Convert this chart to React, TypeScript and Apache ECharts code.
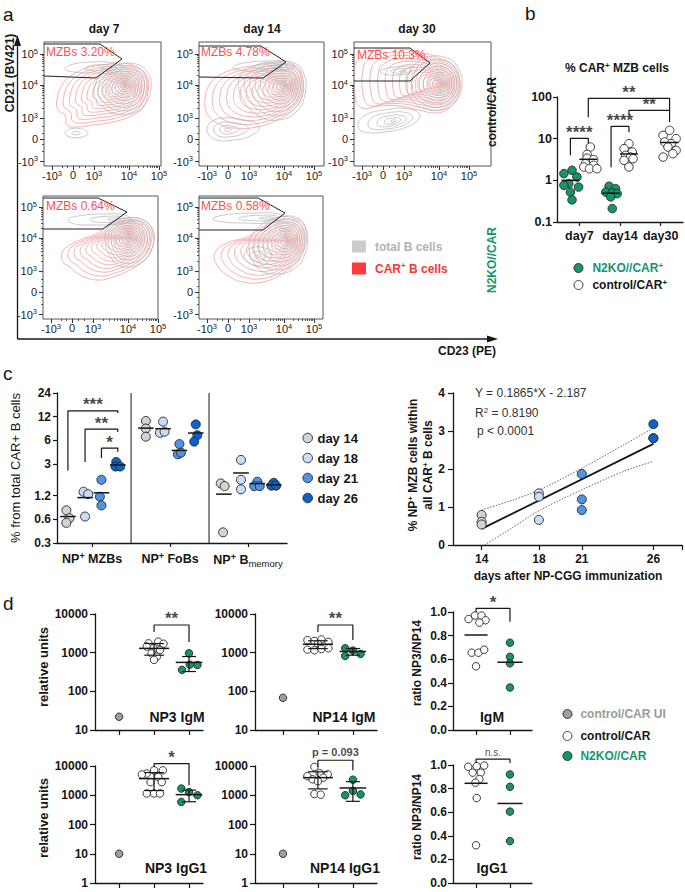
import React, { useEffect, useRef } from 'react';
import * as echarts from 'echarts';

const FONT = '"Liberation Sans", Arial, Helvetica, sans-serif';
const INK = '#161616';
const GREEN = '#16956b';
const UI_GRAY = '#9e9e9e';
const DAY_COLORS = ['#d3d3d3', '#c9def6', '#4f95e6', '#0c62c9'];
const RED_LINE = '#f29090';
const GRAY_LINE = '#b3b3b3';

// ---------- a: flow contour plots (units = px inside each plot: x from left, y from bottom) ----------
const flowTitles = ['day 7', 'day 14', 'day 30'];
const flowTickLabels = ['-10{s|3}', '0', '10{s|3}', '10{s|4}', '10{s|5}'];
const flowXTicks = [8, 29, 50, 85, 115];
const flowYTicks = [4.5, 27, 48, 81, 112];
const mzbLabels = ['MZBs 3.20%', 'MZBs 4.78%', 'MZBs 10.3%', 'MZBs 0.64%', 'MZBs 0.58%'];

const ctrlD7Red = [
  { c: [81, 80], n: 15, pts: [[13, 66], [18, 81], [28, 91], [43, 98], [59, 101], [76, 103], [93, 99], [103, 89], [104, 74], [99, 59], [89, 51], [69, 44], [49, 41], [33, 39], [23, 41], [21, 51], [14, 56]] },
];
const ctrlD7Gray = [
  { c: [81, 81], n: 11, pts: [[50, 73], [58, 92], [75, 101], [92, 102], [104, 93], [107, 78], [102, 63], [92, 54], [72, 52], [58, 60]] },
  { c: [66, 98], n: 3, pts: [[21, 97], [30, 102], [50, 104], [70, 103], [78, 98], [70, 93], [50, 93], [30, 94]] },
  { c: [32, 33], n: 2, pts: [[21, 33], [26, 37], [38, 37], [44, 33], [38, 29], [26, 29]] },
];
const ctrlD7Gate = [[0, 122], [56, 122], [78, 107], [52, 88], [0, 90]];

const ctrlD14Red = [
  { c: [85, 80], n: 15, pts: [[6, 66], [9, 79], [21, 91], [41, 98], [64, 101], [84, 103], [99, 98], [104, 86], [103, 69], [94, 56], [78, 46], [58, 39], [34, 38], [18, 43], [9, 51], [6, 59]] },
];
const ctrlD14Gray = [
  { c: [85, 80], n: 11, pts: [[40, 88], [55, 100], [75, 104], [95, 103], [105, 92], [106, 72], [98, 55], [80, 46], [60, 50], [45, 65]] },
  { c: [28, 36], n: 4, pts: [[8, 36], [12, 44], [25, 48], [45, 46], [60, 40], [55, 32], [35, 26], [15, 27]] },
  { c: [80, 100], n: 3, pts: [[34, 99], [45, 103], [70, 105], [90, 104], [95, 99], [80, 96], [55, 95], [40, 96]] },
];
const ctrlD14Gate = [[0, 120], [62, 120], [87, 104], [64, 88], [0, 89]];

const ctrlD30Red = [
  { c: [87, 82], n: 15, pts: [[1, 100], [8, 110], [22, 116], [45, 117], [65, 114], [85, 108], [100, 100], [106, 85], [104, 70], [95, 58], [82, 53], [65, 56], [45, 60], [25, 60], [8, 58], [1, 70]] },
];
const ctrlD30Gray = [
  { c: [87, 82], n: 11, pts: [[53, 80], [58, 98], [72, 108], [90, 109], [103, 100], [108, 82], [102, 65], [88, 56], [70, 58], [58, 66]] },
  { c: [40, 45], n: 5, pts: [[4, 40], [10, 50], [30, 56], [55, 57], [66, 50], [55, 40], [30, 34], [10, 34]] },
  { c: [50, 95], n: 3, pts: [[26, 95], [40, 99], [60, 99], [63, 95], [45, 91], [30, 92]] },
];
const ctrlD30Gate = [[0, 118], [56, 118], [76, 103], [56, 85], [0, 85]];

const koD7Red = [
  { c: [86, 81], n: 15, pts: [[19, 66], [24, 72], [37, 79], [57, 87], [67, 96], [84, 101], [100, 99], [110, 89], [110, 74], [104, 62], [90, 51], [70, 42], [54, 39], [37, 44], [27, 52], [20, 57]] },
];
const koD7Gray = [
  { c: [86, 81], n: 11, pts: [[62, 80], [68, 95], [85, 101], [102, 98], [110, 85], [108, 68], [98, 56], [82, 52], [70, 58]] },
  { c: [75, 100], n: 3, pts: [[25, 99], [35, 103], [60, 105], [82, 104], [88, 99], [75, 95], [50, 94], [32, 95]] },
];
const koD7Gate = [[0, 121], [55, 121], [84, 107], [60, 90], [0, 90]];

const koD14Red = [
  { c: [88, 78], n: 15, pts: [[16, 66], [28, 76], [48, 82], [64, 92], [78, 101], [94, 101], [106, 92], [107, 76], [99, 59], [84, 46], [64, 37], [44, 37], [28, 44], [18, 54]] },
];
const koD14Gray = [
  { c: [88, 78], n: 11, pts: [[50, 75], [60, 92], [80, 102], [100, 100], [108, 85], [106, 65], [95, 50], [75, 45], [58, 52]] },
  { c: [58, 62], n: 3, pts: [[45, 62], [50, 70], [62, 72], [72, 66], [68, 56], [55, 54]] },
  { c: [72, 101], n: 3, pts: [[14, 100], [25, 104], [55, 106], [80, 105], [85, 100], [70, 96], [45, 96], [25, 97]] },
];
const koD14Gate = [[0, 121], [59, 121], [86, 106], [64, 89], [0, 89]];

// ---------- b: % CAR+ MZB cells ----------
const bDays = ['day7', 'day14', 'day30'];
const bKoDay7 = [1.74, 1.45, 1.2, 0.83, 0.76, 0.69, 0.52, 0.34];
const bKoDay7Jit = [0.04, -0.16, 0.16, -0.04, -0.16, 0.2, 0, 0.04];
const bKoDay14 = [0.72, 0.63, 0.52, 0.5, 0.48, 0.4, 0.21];
const bKoDay14Jit = [-0.05, 0.11, -0.13, 0.03, 0.15, -0.01, 0.03];
const bCtDay7 = [6.3, 4.2, 3.4, 3.14, 2.5, 2.29, 2.09, 1.9, 1.9];
const bCtDay7Jit = [0.05, -0.03, -0.03, 0.13, -0.07, 0.13, -0.11, 0.03, 0.21];
const bCtDay14 = [7.6, 5.75, 4.78, 3.98, 3.62, 3.3, 3.02, 2.09];
const bCtDay14Jit = [0, -0.12, 0.08, -0.08, 0.04, 0.1, -0.12, 0];
const bCtDay30 = [15.8, 12, 10, 8.3, 7.6, 6.3, 5.25, 4.37, 3.62];
const bCtDay30Jit = [0, -0.16, 0.16, -0.12, 0.04, -0.04, 0.16, 0.08, -0.16];
const bKoMeans = [1.0, 0.49];
const bCtMeans = [3.2, 4.3, 8.1];
const bBrackets = [
  { x1: -0.22, y1: 3.98, x2: 0.22, y2: 7.7, top: 10.2, text: '****' },
  { x1: 0.78, y1: 2.05, x2: 1.22, y2: 14.2, top: 19.8, text: '****' },
  { x1: 0.22, y1: 32.5, x2: 2.22, y2: 47.9, top: 92.7, text: '**' },
  { x1: 1.22, y1: 36, x2: 2.22, y2: 25, top: 47.9, text: '**' },
];

// ---------- c: NP+ populations ----------
const cGroups = ['day 14', 'day 18', 'day 21', 'day 26'];
const cCats = ['NP{s|+} MZBs', 'NP{s|+} FoBs', 'NP{s|+} B{m|memory}'];
const cYTicks = [0.3, 0.6, 1.2, 3, 6, 12, 24];
// per day: [MZBs, FoBs, Bmemory]
const cDay14 = [[0.78, 0.62, 0.54], [10.6, 8.5, 6.7], [1.71, 1.58, 0.41]];
const cDay18 = [[1.34, 1.25, 0.65], [10.4, 7.5, 7.75], [3.4, 1.9, 1.44]];
const cDay21 = [[1.9, 1.16, 0.9], [5.4, 4.0, 4.2], [1.8, 1.58, 1.58]];
const cDay26 = [[3.2, 2.8, 2.8], [9.6, 7.0, 5.8], [1.74, 1.6, 1.6]];
const cDay14Jit = [[-0.02, 0.02, -0.02], [0, 0, 0], [-0.04, 0.01, -0.01]];
const cDay18Jit = [[-0.02, 0.04, 0], [0, -0.04, 0.02], [0, 0, 0]];
const cDay21Jit = [[0, -0.02, 0], [0, -0.02, 0.02], [0, -0.04, 0.03]];
const cDay26Jit = [[-0.02, -0.03, 0.03], [0, 0.02, -0.02], [0, -0.03, 0.03]];
const cMeans = [[0.65, 8.6, 1.25], [1.13, 8.45, 2.32], [1.3, 4.48, 1.7], [2.93, 7.45, 1.64]];
const cBrackets = [
  { x1: -0.31, y1: 2.5, x2: 0.33, y2: 13.4, top: 14.2, text: '***' },
  { x1: -0.09, y1: 3.2, x2: 0.33, y2: 7.7, top: 8.35, text: '**' },
  { x1: 0.12, y1: 3.6, x2: 0.33, y2: 4.3, top: 4.8, text: '*' },
];
// regression
const sDays = [14, 18, 21, 26];
const sVals = [[0.79, 0.61, 0.54], [1.36, 1.27, 0.66], [1.87, 1.2, 0.92], [3.18, 2.81, 2.81]];
const fitSlope = 0.1865;
const fitIntercept = -2.187;
const ciUpper = [[14, 0.92], [16, 1.16], [18, 1.44], [21, 2.02], [24, 2.65], [26, 3.08]];
const ciLower = [[14.2, 0], [16, 0.42], [18, 0.9], [21, 1.45], [24, 1.95], [26, 2.2]];

// ---------- d: antibody titres ----------
const dGroups = ['control/CAR UI', 'control/CAR', 'N2KO//CAR'];
const np3IgmUI = [22];
const np3IgmCtrl = [1740, 1930, 1700, 1440, 1300, 1170, 960, 790, 650];
const np3IgmCtrlJit = [-0.16, 0.12, 0.27, -0.21, -0.02, 0.17, -0.07, 0.08, 0];
const np3IgmKo = [960, 360, 490, 480];
const np3IgmKoJit = [0, -0.2, 0.02, 0.24];
const np3IgmStats = [[1290, 430], [560, 235]];
const np14IgmUI = [68];
const np14IgmCtrl = [2100, 2000, 2200, 1900, 1700, 1200, 1150, 1250, 1300];
const np14IgmCtrlJit = [-0.3, -0.1, 0.1, 0.3, 0, -0.3, -0.1, 0.1, 0.3];
const np14IgmKo = [1300, 1130, 820, 930];
const np14IgmKoJit = [-0.22, 0, -0.22, 0.22];
const np14IgmStats = [[1650, 380], [1070, 210]];
const np3Igg1UI = [10];
const np3Igg1Ctrl = [5500, 7100, 7100, 5100, 4200, 2800, 2800, 1150, 1150, 1150];
const np3Igg1CtrlJit = [-0.21, 0, 0.25, -0.35, 0.12, -0.1, 0.22, -0.21, 0, 0.17];
const np3Igg1Ko = [1700, 1290, 1000, 590];
const np3Igg1KoJit = [-0.22, 0, 0.24, -0.22];
const np3Igg1Stats = [[3700, 2250], [1050, 450]];
const np14Igg1UI = [10];
const np14Igg1Ctrl = [9300, 5700, 5200, 4500, 4000, 3500, 3000, 1100, 1050];
const np14Igg1CtrlJit = [-0.1, 0.05, 0.28, -0.3, 0.15, -0.15, 0, -0.1, 0.08];
const np14Igg1Ko = [3400, 1000, 1400, 1070];
const np14Igg1KoJit = [0, -0.22, 0, 0.22];
const np14Igg1Stats = [[4000, 2350], [1770, 1150]];
const dBrackets = [
  { x1: 1, y1: 3430, x2: 2, y2: 1890, top: 5200, text: '**' },
  { x1: 1, y1: 3430, x2: 2, y2: 2130, top: 5200, text: '**' },
  { x1: 1, y1: 9300, x2: 2, y2: 2190, top: 12000, text: '*' },
  { x1: 1, y1: 9300, x2: 2, y2: 7100, top: 15700, text: 'p = 0.093' },
];
const igmRatioCtrl = [0.94, 0.97, 0.97, 0.93, 0.91, 0.655, 0.655, 0.68, 0.54];
const igmRatioCtrlJit = [-0.22, -0.03, 0.16, 0.28, 0.1, -0.13, 0.07, 0.24, 0];
const igmRatioKo = [0.74, 0.62, 0.565, 0.36];
const igmRatioMeans = [0.805, 0.574];
const igg1RatioCtrl = [0.985, 0.99, 0.995, 0.935, 0.935, 0.88, 0.85, 0.72, 0.32];
const igg1RatioCtrlJit = [-0.23, 0.02, 0.24, -0.1, 0.14, 0.1, -0.02, 0.02, 0];
const igg1RatioKo = [0.92, 0.815, 0.605, 0.355];
const igg1RatioMeans = [0.845, 0.674];
const ratioBrackets = [
  { x1: 0, y1: 1.0, x2: 1, y2: 0.918, top: 1.03, text: '*' },
  { x1: 0, y1: 1.017, x2: 1, y2: 1.017, top: 1.05, text: 'n.s.' },
];

function nearest(arr: number[], v: number) {
  let bi = 0;
  arr.forEach((p, i) => { if (Math.abs(p - v) < Math.abs(arr[bi] - v)) bi = i; });
  return bi;
}
function logMinors(a: number, b: number) {
  return [2, 3, 4, 5, 6, 7, 8, 9].map((k) => a + (b - a) * Math.log10(k));
}

function buildOption(): any {
  const grid: any[] = [];
  const xAxis: any[] = [];
  const yAxis: any[] = [];
  const series: any[] = [];
  const graphic: any[] = [];
  const legend: any[] = [];

  const axLine = { show: true, onZero: false, lineStyle: { color: INK, width: 1.3 } };
  const tick = (length = 4) => ({ show: true, length, lineStyle: { color: INK, width: 1.2 } });
  const lab = (size = 12, weight: any = 'bold', color = INK) => ({ fontFamily: FONT, fontSize: size, fontWeight: weight, color });
  const addGrid = (left: number, top: number, width: number, height: number, show = false) => {
    grid.push({ left, top, width, height, show, borderColor: '#555', borderWidth: 1, backgroundColor: 'transparent', containLabel: false });
    return grid.length - 1;
  };
  const addX = (o: any) => { xAxis.push(o); return xAxis.length - 1; };
  const addY = (o: any) => { yAxis.push(o); return yAxis.length - 1; };

  const dots = (xi: number, yi: number, name: string, xs: number[], ys: number[], fill: string, size: number, z = 3) => {
    series.push({
      type: 'scatter', name, xAxisIndex: xi, yAxisIndex: yi, data: xs.map((x, i) => [x, ys[i]]),
      symbol: 'circle', symbolSize: size, itemStyle: { color: fill, borderColor: '#262626', borderWidth: 0.9, opacity: 1 },
      z, silent: true, clip: false,
    });
  };
  const means = (xi: number, yi: number, items: number[][], hw: number, capHw = 0, z = 5) => {
    series.push({
      type: 'custom', xAxisIndex: xi, yAxisIndex: yi, data: items, encode: { x: 0, y: 1 }, z, silent: true, clip: false,
      renderItem: (params: any, api: any) => {
        const x = api.value(0);
        const m = api.value(1);
        const sd = api.value(2) || 0;
        const L = api.coord([x - hw, m]);
        const R = api.coord([x + hw, m]);
        const st = { stroke: INK, lineWidth: 1.5 };
        const ch: any[] = [{ type: 'line', shape: { x1: L[0], y1: L[1], x2: R[0], y2: R[1] }, style: st }];
        if (sd > 0) {
          const T = api.coord([x, m + sd]);
          const B = api.coord([x, m - sd]);
          const TL = api.coord([x - capHw, m + sd]);
          const TR = api.coord([x + capHw, m + sd]);
          const BL = api.coord([x - capHw, m - sd]);
          const BR = api.coord([x + capHw, m - sd]);
          ch.push({ type: 'line', shape: { x1: T[0], y1: T[1], x2: B[0], y2: B[1] }, style: { stroke: INK, lineWidth: 1.2 } });
          ch.push({ type: 'line', shape: { x1: TL[0], y1: TL[1], x2: TR[0], y2: TR[1] }, style: { stroke: INK, lineWidth: 1.2 } });
          ch.push({ type: 'line', shape: { x1: BL[0], y1: BL[1], x2: BR[0], y2: BR[1] }, style: { stroke: INK, lineWidth: 1.2 } });
        }
        return { type: 'group', children: ch };
      },
    });
  };
  const bracket = (xi: number, yi: number, br: any, size: number, weight: any = 'bold', dist = 0) => {
    series.push({
      type: 'line', xAxisIndex: xi, yAxisIndex: yi, data: [[br.x1, br.y1], [br.x1, br.top], [br.x2, br.top], [br.x2, br.y2]],
      symbol: 'none', lineStyle: { color: INK, width: 1.2 }, clip: false, silent: true, z: 6,
    });
    series.push({
      type: 'scatter', xAxisIndex: xi, yAxisIndex: yi, data: [[(br.x1 + br.x2) / 2, br.top]], symbolSize: 1,
      itemStyle: { color: 'rgba(0,0,0,0)' }, clip: false, silent: true, z: 7,
      label: { show: true, position: 'top', distance: dist, formatter: br.text, ...lab(size, weight) },
    });
  };
  const text = (t: string, x: number, y: number, o: any = {}) => {
    const align = o.align || 'center';
    graphic.push({
      type: 'text', x, y, rotation: o.rot || 0, silent: true, z: 20,
      style: {
        text: t, fill: o.color || INK, fontFamily: FONT, fontSize: o.size || 12, fontWeight: o.weight || 'bold',
        align, verticalAlign: 'middle', textAlign: align, textVerticalAlign: 'middle', rich: o.rich,
      },
    });
  };
  const supRich = (size: number, weight: string, color: string) => ({
    s: { fontFamily: FONT, fontSize: Math.round(size * 0.7), fontWeight: weight, fill: color, padding: [0, 0, Math.round(size * 0.5), 0] },
  });
  const addLegend = (name: string, left: number, cy: number, o: any) => {
    legend.push({
      show: true, left, top: cy - o.h / 2, padding: 0, itemGap: 0, itemWidth: o.iw, itemHeight: o.ih, selectedMode: false,
      data: [{ name, icon: o.icon, itemStyle: o.itemStyle }],
      formatter: o.fmt || ((n: string) => n),
      textStyle: { fontFamily: FONT, fontSize: o.size, fontWeight: 'bold', color: o.color, padding: [0, 0, 0, o.pad || 0], rich: { s: { fontSize: Math.round(o.size * 0.7), padding: [0, 0, 6, 0] } } },
    });
  };

  // ================= panel a =================
  const flowBoxes = [
    { left: 44, top: 42, w: 117, h: 124, red: ctrlD7Red, gray: ctrlD7Gray, gate: ctrlD7Gate, lx: 46, ly: 52 },
    { left: 199, top: 42, w: 125, h: 124, red: ctrlD14Red, gray: ctrlD14Gray, gate: ctrlD14Gate, lx: 201, ly: 52 },
    { left: 354, top: 42, w: 137, h: 124, red: ctrlD30Red, gray: ctrlD30Gray, gate: ctrlD30Gate, lx: 357, ly: 55 },
    { left: 43, top: 196, w: 115, h: 123, red: koD7Red, gray: koD7Gray, gate: koD7Gate, lx: 46, ly: 206 },
    { left: 199, top: 196, w: 124, h: 123, red: koD14Red, gray: koD14Gray, gate: koD14Gate, lx: 201, ly: 206 },
  ];
  const flowXMinor = [...logMinors(50, 85), ...logMinors(85, 115), 18, 23, 35, 41];
  const flowYMinor = [...logMinors(48, 81), ...logMinors(81, 112), 15, 22, 33, 40];
  const flowRich = { s: { fontSize: 7.5, padding: [0, 0, 6, 0] } };
  const contour = (xi: number, yi: number, blobs: any[], color: string, name: string, z: number) => ({
    type: 'custom', name, xAxisIndex: xi, yAxisIndex: yi, silent: true, z, clip: true, itemStyle: { color },
    data: blobs.map((b) => b.c), encode: { x: 0, y: 1 },
    renderItem: (params: any, api: any) => {
      const b = blobs[params.dataIndex];
      const c = api.coord(b.c);
      const pts = b.pts.map((p: number[]) => api.coord(p));
      const children: any[] = [];
      for (let k = 0; k < b.n; k++) {
        // contour levels pack more tightly towards the density peak
        const s = Math.pow(1 - k / b.n, 1.45);
        children.push({
          type: 'polygon',
          shape: { points: pts.map((p: number[]) => [c[0] + (p[0] - c[0]) * s, c[1] + (p[1] - c[1]) * s]), smooth: 0.45 },
          style: { fill: 'none', stroke: color, lineWidth: 0.7 },
        });
      }
      return { type: 'group', children };
    },
  });
  flowBoxes.forEach((fb, i) => {
    const g = addGrid(fb.left, fb.top, fb.w, fb.h, true);
    const base = { type: 'value', gridIndex: g, splitLine: { show: false }, axisLine: { show: false, onZero: false } };
    const xi = addX({
      ...base, min: 0, max: fb.w, position: 'bottom',
      axisTick: { show: true, customValues: flowXTicks, length: 4, lineStyle: { color: '#333', width: 1 } },
      axisLabel: { show: true, customValues: flowXTicks, formatter: (v: number) => flowTickLabels[nearest(flowXTicks, v)], ...lab(11, 'normal', '#222'), margin: 3, rich: flowRich },
    });
    addX({
      ...base, min: 0, max: fb.w, position: 'bottom', axisLabel: { show: false },
      axisTick: { show: true, customValues: flowXMinor, length: 2, lineStyle: { color: '#333', width: 0.8 } },
    });
    const yi = addY({
      ...base, min: 0, max: fb.h, position: 'left',
      axisTick: { show: true, customValues: flowYTicks, length: 4, lineStyle: { color: '#333', width: 1 } },
      axisLabel: { show: true, customValues: flowYTicks, formatter: (v: number) => flowTickLabels[nearest(flowYTicks, v)], ...lab(11, 'normal', '#222'), margin: 6, rich: flowRich },
    });
    addY({
      ...base, min: 0, max: fb.h, position: 'left', axisLabel: { show: false },
      axisTick: { show: true, customValues: flowYMinor, length: 2, lineStyle: { color: '#333', width: 0.8 } },
    });
    series.push(contour(xi, yi, fb.red, RED_LINE, 'CAR+ B cells', 2));
    series.push(contour(xi, yi, fb.gray, GRAY_LINE, 'total B cells', 3));
    series.push({
      type: 'line', xAxisIndex: xi, yAxisIndex: yi, data: fb.gate, symbol: 'none',
      lineStyle: { color: '#222', width: 1 }, silent: true, z: 6, clip: false,
    });
    text(mzbLabels[i], fb.lx, fb.ly, { align: 'left', weight: 'normal', size: 12, color: '#ff4f4f' });
  });
  text(flowTitles[0], 104, 29);
  text(flowTitles[1], 262, 29);
  text(flowTitles[2], 417, 29);
  text('a', 3, 14, { align: 'left', weight: 'normal', size: 19 });
  text('CD21 (BV421)', 10, 73, { rot: Math.PI / 2, size: 12 });
  text('CD23 (PE)', 467, 351, { size: 12 });
  text('control/CAR', 492, 112, { rot: Math.PI / 2, size: 12 });
  text('N2KO//CAR', 492, 260, { rot: Math.PI / 2, size: 12, color: GREEN });
  graphic.push({ type: 'line', shape: { x1: 17.5, y1: 339, x2: 17.5, y2: 44 }, style: { stroke: INK, lineWidth: 1.3 }, silent: true });
  graphic.push({ type: 'polygon', shape: { points: [[17.5, 35], [14, 46], [21, 46]] }, style: { fill: INK }, silent: true });
  graphic.push({ type: 'line', shape: { x1: 17.5, y1: 339, x2: 488, y2: 339 }, style: { stroke: INK, lineWidth: 1.3 }, silent: true });
  graphic.push({ type: 'polygon', shape: { points: [[498, 339], [487, 335.5], [487, 342.5]] }, style: { fill: INK }, silent: true });
  addLegend('total B cells', 352, 247, { h: 13, iw: 14, ih: 12, icon: 'rect', itemStyle: { color: '#cccccc' }, size: 12, color: '#b3b3b3', pad: 4 });
  addLegend('CAR+ B cells', 352, 268, { h: 13, iw: 14, ih: 12, icon: 'rect', itemStyle: { color: '#ff3b3b' }, size: 12, color: '#ff3333', pad: 4, fmt: () => 'CAR{s|+} B cells' });

  // ================= panel b =================
  {
    const g = addGrid(557, 97, 126, 125);
    const xi = addX({
      type: 'value', gridIndex: g, min: -0.55, max: 2.55, splitLine: { show: false }, axisLine: axLine,
      axisTick: { ...tick(4), customValues: [0, 1, 2] },
      axisLabel: { customValues: [0, 1, 2], formatter: (v: number) => bDays[Math.round(v)], ...lab(12.5), margin: 7 },
    });
    const yi = addY({
      type: 'log', logBase: 10, gridIndex: g, min: 0.1, max: 100, splitLine: { show: false }, axisLine: axLine,
      axisTick: tick(4), minorTick: { show: false },
      axisLabel: { formatter: (v: number) => (v >= 1 ? String(Math.round(v)) : String(Number(v.toPrecision(1)))), ...lab(12.5), margin: 5 },
    });
    const jx = (c: number, off: number, jit: number[]) => jit.map((j) => c + off + j);
    dots(xi, yi, 'N2KO//CAR+', [...jx(0, -0.22, bKoDay7Jit), ...jx(1, -0.22, bKoDay14Jit)], [...bKoDay7, ...bKoDay14], GREEN, 8.5);
    dots(xi, yi, 'control/CAR+', [...jx(0, 0.22, bCtDay7Jit), ...jx(1, 0.22, bCtDay14Jit), ...jx(2, 0.22, bCtDay30Jit)], [...bCtDay7, ...bCtDay14, ...bCtDay30], '#ffffff', 8.5);
    means(xi, yi, [...bKoMeans.map((m, i) => [i - 0.22, m, 0]), ...bCtMeans.map((m, i) => [i + 0.22, m, 0])], 0.22);
    bBrackets.forEach((br) => bracket(xi, yi, br, 17, 'bold', -3));
    text('b', 525, 13, { align: 'left', weight: 'normal', size: 19 });
    text('% CAR{s|+} MZB cells', 617, 68, { size: 12, rich: supRich(12, 'bold', INK) });
    addLegend('N2KO//CAR+', 573.5, 267, { h: 12, iw: 9, ih: 9, icon: 'circle', itemStyle: { color: GREEN, borderColor: '#262626', borderWidth: 0.9 }, size: 12, color: GREEN, pad: 4.5, fmt: () => 'N2KO//CAR{s|+}' });
    addLegend('control/CAR+', 573.5, 284, { h: 12, iw: 9, ih: 9, icon: 'circle', itemStyle: { color: '#ffffff', borderColor: '#262626', borderWidth: 0.9 }, size: 12, color: INK, pad: 4.5, fmt: () => 'control/CAR{s|+}' });
  }

  // ================= panel c (left) =================
  {
    const g = addGrid(57, 393, 230, 150);
    const xi = addX({
      type: 'value', gridIndex: g, min: -0.45, max: 2.5, splitLine: { show: false }, axisLine: axLine,
      axisTick: { ...tick(4), customValues: [0, 1, 2] },
      axisLabel: {
        customValues: [0, 1, 2], formatter: (v: number) => cCats[Math.round(v)], ...lab(12.5), margin: 8,
        rich: { s: { fontSize: 9, padding: [0, 0, 6, 0] }, m: { fontSize: 9.5, fontWeight: 'normal', padding: [7, 0, 0, 0] } },
      },
    });
    const yi = addY({
      type: 'log', logBase: 2, gridIndex: g, min: 0.3, max: 24, splitLine: { show: false }, axisLine: axLine,
      axisTick: { ...tick(4), customValues: cYTicks }, minorTick: { show: false },
      axisLabel: { customValues: cYTicks, formatter: (v: number) => String(Number(v.toPrecision(2))), ...lab(12), margin: 6 },
    });
    const offs = [-0.31, -0.09, 0.12, 0.33];
    const days = [cDay14, cDay18, cDay21, cDay26];
    const jits = [cDay14Jit, cDay18Jit, cDay21Jit, cDay26Jit];
    days.forEach((dv, d) => {
      const xs: number[] = [];
      const ys: number[] = [];
      dv.forEach((vals, cat) => vals.forEach((v, k) => { xs.push(cat + offs[d] + jits[d][cat][k]); ys.push(v); }));
      dots(xi, yi, cGroups[d], xs, ys, DAY_COLORS[d], 9);
      means(xi, yi, cMeans[d].map((m, cat) => [cat + offs[d], m, 0]), 0.1);
    });
    [0.5, 1.5].forEach((sx) => series.push({
      type: 'line', xAxisIndex: xi, yAxisIndex: yi, data: [[sx, 0.3], [sx, 24]], symbol: 'none',
      lineStyle: { color: INK, width: 1 }, silent: true, z: 2,
    }));
    cBrackets.forEach((br) => bracket(xi, yi, br, 17, 'bold', -3));
    text('c', 3, 373, { align: 'left', weight: 'normal', size: 19 });
    text('% from total CAR+ B cells', 15, 468, { rot: Math.PI / 2, size: 13, weight: 'normal' });
    cGroups.forEach((name, d) => addLegend(name, 302.5, 438 + d * 20, {
      h: 13, iw: 9.5, ih: 9.5, icon: 'circle', itemStyle: { color: DAY_COLORS[d], borderColor: '#262626', borderWidth: 0.9 }, size: 13, color: INK, pad: 0,
    }));
  }

  // ================= panel c (right) =================
  {
    const g = addGrid(453, 393, 229, 152);
    const xi = addX({
      type: 'value', gridIndex: g, min: 12, max: 28, splitLine: { show: false }, axisLine: axLine,
      axisTick: { ...tick(5), customValues: [14, 18, 21, 26, 28] },
      axisLabel: { customValues: sDays, ...lab(12), margin: 8 },
    });
    const yi = addY({
      type: 'value', gridIndex: g, min: 0, max: 4, interval: 1, splitLine: { show: false }, axisLine: axLine,
      axisTick: tick(5), axisLabel: { ...lab(12), margin: 8 },
    });
    series.push({ type: 'line', xAxisIndex: xi, yAxisIndex: yi, data: ciUpper, symbol: 'none', smooth: 0.3, lineStyle: { color: '#555', width: 0.9, type: [1.5, 1.5] }, silent: true, z: 2 });
    series.push({ type: 'line', xAxisIndex: xi, yAxisIndex: yi, data: ciLower, symbol: 'none', smooth: 0.3, lineStyle: { color: '#555', width: 0.9, type: [1.5, 1.5] }, silent: true, z: 2 });
    series.push({
      type: 'line', xAxisIndex: xi, yAxisIndex: yi, symbol: 'none', silent: true, z: 2,
      data: [[14, fitSlope * 14 + fitIntercept], [26, fitSlope * 26 + fitIntercept]], lineStyle: { color: INK, width: 1.8 },
    });
    sDays.forEach((day, d) => dots(xi, yi, cGroups[d], sVals[d].map(() => day), sVals[d], DAY_COLORS[d], 9, 4));
    text('Y = 0.1865*X - 2.187', 475, 393, { align: 'left', weight: 'normal', size: 12, color: '#333' });
    text('R{s|2} = 0.8190', 475, 413, { align: 'left', weight: 'normal', size: 12, color: '#333', rich: supRich(12, 'normal', '#333') });
    text('p < 0.0001', 477, 431, { align: 'left', weight: 'normal', size: 12, color: '#333' });
    text('% NP{s|+} MZB cells within', 413, 465, { rot: Math.PI / 2, size: 12, rich: supRich(12, 'bold', INK) });
    text('all CAR{s|+} B cells', 428, 465, { rot: Math.PI / 2, size: 12, rich: supRich(12, 'bold', INK) });
    text('days after NP-CGG immunization', 568, 576, { size: 12 });
  }

  // ================= panel d =================
  const dPlots = [
    { left: 95, top: 614, w: 108, h: 116, ymin: 10, xmin: -0.69, xmax: 2.4, ui: np3IgmUI, ct: np3IgmCtrl, ctJ: np3IgmCtrlJit, ko: np3IgmKo, koJ: np3IgmKoJit, st: np3IgmStats, br: dBrackets[0], label: 'NP3 IgM', lx: 177, ly: 717 },
    { left: 255, top: 614, w: 122, h: 116, ymin: 10, xmin: -0.8, xmax: 2.69, ui: np14IgmUI, ct: np14IgmCtrl, ctJ: np14IgmCtrlJit, ko: np14IgmKo, koJ: np14IgmKoJit, st: np14IgmStats, br: dBrackets[1], label: 'NP14 IgM', lx: 344, ly: 717 },
    { left: 95, top: 766, w: 108, h: 117, ymin: 1, xmin: -0.69, xmax: 2.4, ui: np3Igg1UI, ct: np3Igg1Ctrl, ctJ: np3Igg1CtrlJit, ko: np3Igg1Ko, koJ: np3Igg1KoJit, st: np3Igg1Stats, br: dBrackets[2], label: 'NP3 IgG1', lx: 176, ly: 868 },
    { left: 255, top: 766, w: 122, h: 117, ymin: 1, xmin: -0.8, xmax: 2.69, ui: np14Igg1UI, ct: np14Igg1Ctrl, ctJ: np14Igg1CtrlJit, ko: np14Igg1Ko, koJ: np14Igg1KoJit, st: np14Igg1Stats, br: dBrackets[3], label: 'NP14 IgG1', lx: 345, ly: 868 },
  ];
  dPlots.forEach((p, i) => {
    const g = addGrid(p.left, p.top, p.w, p.h);
    const xi = addX({
      type: 'value', gridIndex: g, min: p.xmin, max: p.xmax, splitLine: { show: false }, axisLine: axLine,
      axisTick: { ...tick(5), customValues: [0, 1, 2] }, axisLabel: { show: false },
    });
    const yi = addY({
      type: 'log', logBase: 10, gridIndex: g, min: p.ymin, max: 10000, splitLine: { show: false }, axisLine: axLine,
      axisTick: tick(5), minorTick: { show: false },
      axisLabel: { formatter: (v: number) => String(Math.round(v)), ...lab(12), margin: 7 },
    });
    dots(xi, yi, dGroups[0], p.ui.map(() => 0), p.ui, UI_GRAY, 7.5);
    dots(xi, yi, dGroups[1], p.ctJ.map((j) => 1 + j), p.ct, '#ffffff', 7.5);
    dots(xi, yi, dGroups[2], p.koJ.map((j) => 2 + j), p.ko, GREEN, 7.5);
    means(xi, yi, [[1, p.st[0][0], p.st[0][1]]], 0.43, 0.28);
    means(xi, yi, [[2, p.st[1][0], p.st[1][1]]], 0.38, 0.2);
    const isP = p.br.text.startsWith('p');
    bracket(xi, yi, p.br, isP ? 11 : 17, 'bold', isP ? 2 : -3);
    text(p.label, p.lx, p.ly, { size: 14 });
    if (i % 2 === 0) text('relative units', 43, i === 0 ? 667 : 818, { rot: Math.PI / 2, size: 13 });
  });
  const rPlots = [
    { top: 612, ct: igmRatioCtrl, ctJ: igmRatioCtrlJit, ko: igmRatioKo, mn: igmRatioMeans, br: ratioBrackets[0], label: 'IgM', ly: 717, ny: 663 },
    { top: 765, ct: igg1RatioCtrl, ctJ: igg1RatioCtrlJit, ko: igg1RatioKo, mn: igg1RatioMeans, br: ratioBrackets[1], label: 'IgG1', ly: 868, ny: 817 },
  ];
  rPlots.forEach((p) => {
    const g = addGrid(453, p.top, 79, 118);
    const xi = addX({
      type: 'value', gridIndex: g, min: -0.68, max: 1.65, splitLine: { show: false }, axisLine: axLine,
      axisTick: { ...tick(5), customValues: [0, 1] }, axisLabel: { show: false },
    });
    const yi = addY({
      type: 'value', gridIndex: g, min: 0, max: 1, interval: 0.2, splitLine: { show: false }, axisLine: axLine,
      axisTick: tick(5), axisLabel: { formatter: (v: number) => v.toFixed(1), ...lab(12), margin: 6 },
    });
    dots(xi, yi, dGroups[1], p.ctJ, p.ct, '#ffffff', 7.5);
    dots(xi, yi, dGroups[2], p.ko.map(() => 1), p.ko, GREEN, 7.5);
    means(xi, yi, [[0, p.mn[0], 0]], 0.34);
    means(xi, yi, [[1, p.mn[1], 0]], 0.37);
    const ns = p.br.text === 'n.s.';
    bracket(xi, yi, p.br, ns ? 10 : 17, ns ? 'normal' : 'bold', ns ? 1 : -3);
    text(p.label, 492, p.ly, { size: 14 });
    text('ratio NP3/NP14', 417, p.ny, { rot: Math.PI / 2, size: 12 });
  });
  text('d', 3, 603, { align: 'left', weight: 'normal', size: 19 });
  addLegend(dGroups[0], 562.5, 714, { h: 12, iw: 9, ih: 9, icon: 'circle', itemStyle: { color: UI_GRAY, borderColor: '#262626', borderWidth: 0.9 }, size: 12, color: '#9a9a9a', pad: 3.5 });
  addLegend(dGroups[1], 562.5, 736, { h: 12, iw: 9, ih: 9, icon: 'circle', itemStyle: { color: '#ffffff', borderColor: '#262626', borderWidth: 0.9 }, size: 12, color: INK, pad: 3.5 });
  addLegend(dGroups[2], 562.5, 756, { h: 12, iw: 9, ih: 9, icon: 'circle', itemStyle: { color: GREEN, borderColor: '#262626', borderWidth: 0.9 }, size: 12, color: GREEN, pad: 3.5 });

  return {
    animation: false,
    backgroundColor: '#ffffff',
    textStyle: { fontFamily: FONT },
    grid, xAxis, yAxis, series, legend,
    graphic: { elements: graphic },
  };
}

export default function App() {
  const ref = useRef<HTMLDivElement>(null);
  useEffect(() => {
    if (!ref.current) return;
    const chart = echarts.init(ref.current, null, { renderer: 'svg' });
    chart.setOption(buildOption());
    return () => chart.dispose();
  }, []);
  return <div ref={ref} style={{ position: 'absolute', left: 0, top: 0, width: 685, height: 892, background: '#fff' }} />;
}
